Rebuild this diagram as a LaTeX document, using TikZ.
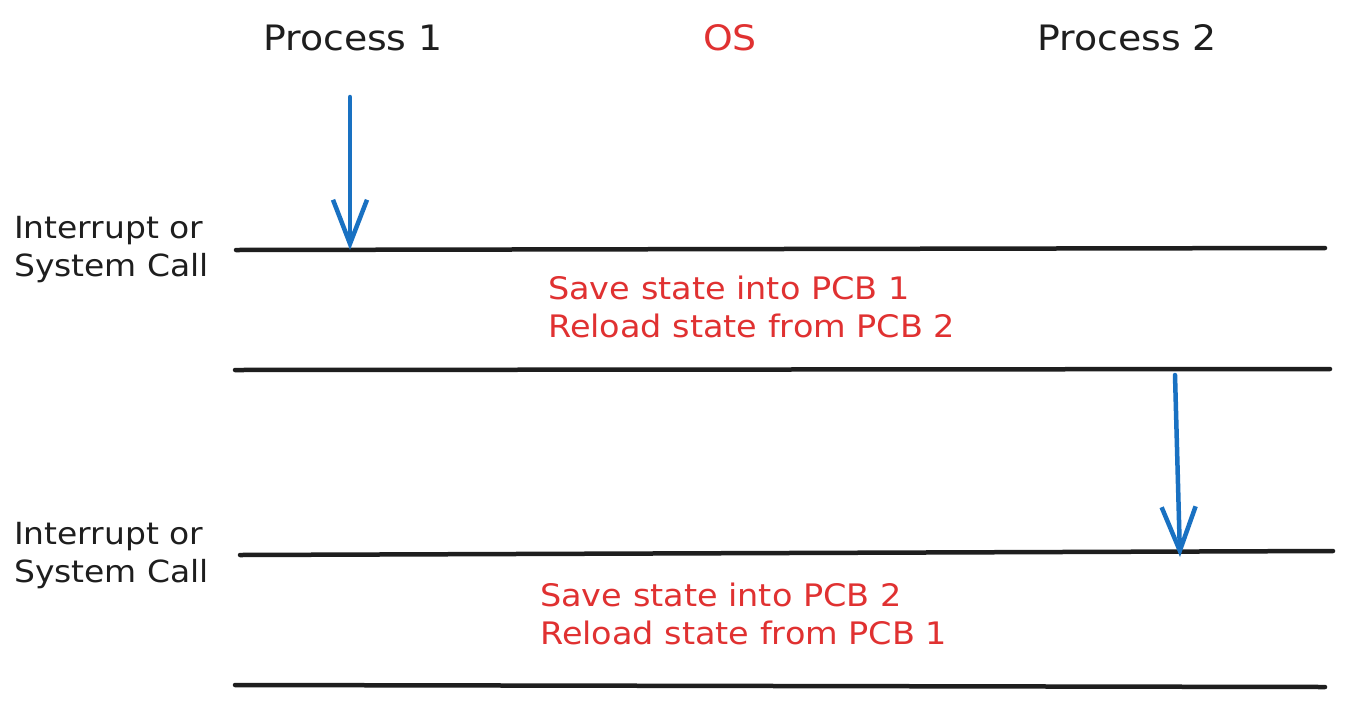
\documentclass[tikz,border=0pt]{standalone}
\usepackage{fontspec}
\newfontfamily\hand[FakeStretch=1.08]{DejaVu Sans}
\usetikzlibrary{arrows.meta}
\definecolor{inkblack}{HTML}{1E1E1E}
\definecolor{inkred}{HTML}{E03131}
\definecolor{inkblue}{HTML}{1971C2}
\tikzset{
  timeline/.style={draw=inkblack, line width=4.5pt, line cap=round},
  flow/.style={draw=inkblue, line width=4.5pt, line cap=round, line join=round,
    -{Straight Barb[length=44pt, width=34pt, line width=4.5pt]}},
  title/.style={font=\fontsize{35}{40}\hand, text=inkblack, anchor=base, inner sep=0pt},
  ostitle/.style={title, text=inkred},
  sidelabel/.style={font=\fontsize{30.5}{38}\hand, text=inkblack, anchor=base west, align=left, inner sep=0pt},
  oslabel/.style={font=\fontsize{31}{37.5}\hand, text=inkred, anchor=base west, align=left, inner sep=0pt}
}
\begin{document}
\begin{tikzpicture}[x=1pt,y=-1pt]
\useasboundingbox[fill=white] (0,0) rectangle (1346,702);
% titles
\node[title] (p1) at (353,50) {Process 1};
\node[ostitle] (os) at (730,50) {OS};
\node[title] (p2) at (1127,50) {Process 2};
% timelines
\coordinate (l1a) at (236,250); \coordinate (l1b) at (1325,248);
\coordinate (l2a) at (235,370); \coordinate (l2b) at (1330,369);
\coordinate (l3a) at (240,555); \coordinate (l3b) at (1333,551);
\coordinate (l4a) at (235,685); \coordinate (l4b) at (1325,687);
\draw[timeline] (l1a) -- (l1b);
\draw[timeline] (l2a) -- (l2b);
\draw[timeline] (l3a) -- (l3b);
\draw[timeline] (l4a) -- (l4b);
% arrows
\coordinate (a1s) at (350,97); \coordinate (a1e) at (350,250);
\coordinate (a2s) at (1175,375); \coordinate (a2e) at (1180,557);
\draw[flow] (a1s) -- (a1e);
\draw[flow] (a2s) -- (a2e);
% side labels (base = baseline of last line)
\node[sidelabel] (int1) at (14,276) {Interrupt or\\System Call};
\node[sidelabel] (int2) at (14,582) {Interrupt or\\System Call};
% OS labels
\node[oslabel] (sv1) at (548,337) {Save state into PCB 1\\Reload state from PCB 2};
\node[oslabel] (sv2) at (540,644) {Save state into PCB 2\\Reload state from PCB 1};
\end{tikzpicture}
\end{document}
